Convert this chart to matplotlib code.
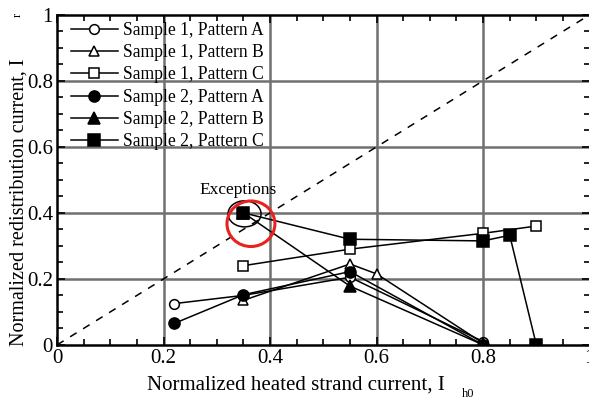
import numpy as np
import matplotlib
matplotlib.use("Agg")
import matplotlib.pyplot as plt
from matplotlib.patches import Ellipse
from matplotlib.ticker import MultipleLocator, FuncFormatter

plt.rcParams["font.family"] = ["Liberation Serif", "DejaVu Serif"]

# --- data ---
s1a_x = [0.22, 0.35, 0.55, 0.80]
s1a_y = [0.125, 0.15, 0.205, 0.01]

s1b_x = [0.35, 0.55, 0.60, 0.80]
s1b_y = [0.135, 0.245, 0.215, 0.005]

s1c_x = [0.35, 0.55, 0.80, 0.90]
s1c_y = [0.24, 0.29, 0.338, 0.36]

s2a_x = [0.22, 0.35, 0.55, 0.80]
s2a_y = [0.065, 0.152, 0.222, 0.0]

s2b_x = [0.35, 0.55, 0.80]
s2b_y = [0.40, 0.178, 0.0]

s2c_x = [0.35, 0.55, 0.80, 0.85, 0.90]
s2c_y = [0.40, 0.32, 0.315, 0.332, 0.0]

series = [
    (s1a_x, s1a_y, "o", "white", "Sample 1, Pattern A", 7),
    (s1b_x, s1b_y, "^", "white", "Sample 1, Pattern B", 7),
    (s1c_x, s1c_y, "s", "white", "Sample 1, Pattern C", 7),
    (s2a_x, s2a_y, "o", "black", "Sample 2, Pattern A", 8),
    (s2b_x, s2b_y, "^", "black", "Sample 2, Pattern B", 8),
    (s2c_x, s2c_y, "s", "black", "Sample 2, Pattern C", 8),
]

fig = plt.figure(figsize=(5.89, 4.01), dpi=100)
ax = fig.add_axes([0.097, 0.14, 0.904, 0.823])

# grid
for v in [0.2, 0.4, 0.6, 0.8]:
    ax.axvline(v, color="#707070", lw=1.8, zorder=0)
    ax.axhline(v, color="#707070", lw=1.8, zorder=0)

# diagonal reference
ax.plot([0, 1], [0, 1], ls=(0, (5, 5)), color="black", lw=1.1, zorder=1)

for xs, ys, m, fc, lab, ms in series:
    ax.plot(xs, ys, marker=m, color="black", mfc=fc, mec="black",
            ms=ms, mew=1.1, lw=1.1, label=lab, zorder=3)

# "Exceptions" markers
ax.add_patch(Ellipse((0.352, 0.397), 0.062, 0.079, fill=False,
                     ec="black", lw=1.1, zorder=4))
ax.add_patch(Ellipse((0.364, 0.367), 0.090, 0.138, fill=False,
                     ec="#e8231f", lw=2.2, zorder=5))
ax.text(0.34, 0.445, "Exceptions", ha="center", va="bottom", fontsize=12.5)

ax.set_xlim(0, 1)
ax.set_ylim(0, 1)
ax.xaxis.set_major_locator(MultipleLocator(0.2))
ax.yaxis.set_major_locator(MultipleLocator(0.2))
ax.xaxis.set_minor_locator(MultipleLocator(0.05))
ax.yaxis.set_minor_locator(MultipleLocator(0.05))
fmt = FuncFormatter(lambda v, p: "%g" % round(v, 2))
ax.xaxis.set_major_formatter(fmt)
ax.yaxis.set_major_formatter(fmt)
ax.tick_params(which="both", direction="in", top=True, right=True,
               labelsize=15, width=1.2)
ax.tick_params(which="major", length=6, pad=3)
ax.tick_params(which="minor", length=4)
for s in ax.spines.values():
    s.set_linewidth(1.8)

# axis titles (placed like the original, subscripts set apart)
ax.text(0.449, -0.121, "Normalized heated strand current, I", fontsize=15,
        ha="center", va="center", transform=ax.transAxes)
ax.text(-0.071, 0.433, "Normalized redistribution current, I", fontsize=14.5,
        rotation=90, ha="center", va="center", transform=ax.transAxes)
fig.text(468 / 589, 1 - 394 / 401, "h0", fontsize=9, ha="center", va="center")
fig.text(18 / 589, 1 - 15 / 401, "r", fontsize=9, rotation=90,
         ha="center", va="center")

ax.legend(loc="upper left", frameon=False, fontsize=12.7, handlelength=2.7,
          labelspacing=0.3, borderaxespad=0.1, handletextpad=0.3,
          borderpad=0.3, bbox_to_anchor=(0.012, 1.0))

fig.savefig("out.png", dpi=100)
